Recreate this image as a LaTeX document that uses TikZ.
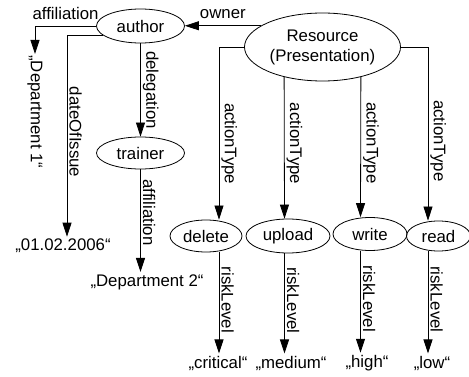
\documentclass[tikz,border=0pt]{standalone}
\usepackage{fontspec}
\setmainfont{Liberation Sans}
\usetikzlibrary{shapes.geometric, arrows.meta, positioning, calc}

\begin{document}
\begin{tikzpicture}[x=1pt, y=-1pt, >={Triangle[length=14pt,width=9pt]}, line width=0.8pt,
        font=\fontsize{16.8pt}{20pt}\selectfont]
        \tikzstyle{ent}=[ellipse, draw, inner sep=0pt]
        \tikzstyle{val}=[inner sep=2pt]
        \tikzstyle{lbl}=[rotate=-90, anchor=south, inner sep=2pt]
        \useasboundingbox (0,0) rectangle (469,377);

        % Entities
        \node[ent, minimum width=88pt, minimum height=34pt] (author) at (140.5,26) {author};
        \node[ent, minimum width=88pt, minimum height=32pt] (trainer) at (140.5,153) {trainer};
        \node[ent, minimum width=156pt, minimum height=68pt, align=center] (res) at (322.5,47) {Resource\\(Presentation)};

        % Actions
        \node[ent, minimum width=72pt, minimum height=32pt] (delete) at (206,236) {delete};
        \node[ent, minimum width=84pt, minimum height=34pt] (upload) at (288,236) {upload};
        \node[ent, minimum width=74pt, minimum height=33pt] (write) at (370,234) {write};
        \node[ent, minimum width=64pt, minimum height=30pt] (read) at (438.5,236) {read};

        % Values
        \node[val, rotate=-90, anchor=west, inner sep=1pt] (dep1) at (35,54) {„Department 1“};
        \node[val] (date) at (63,246) {„01.02.2006“};
        \node[val] (dep2) at (147,282) {„Department 2“};
        \node[val] (crit) at (218,363) {„critical“};
        \node[val] (med) at (291,363) {„medium“};
        \node[val] (high) at (367,363) {„high“};
        \node[val] (low) at (432,363) {„low“};

        % Author and trainer
        \draw[->] (author.west) -| (dep1.west) node[pos=0.25, above=3pt] {affiliation};
        \draw[->] (author.194) -| ([xshift=4pt]date.north) node[pos=0.74, lbl] {dateOfIssue};
        \draw[->] (author) -- (trainer) node[midway, lbl] {delegation};
        \draw[->] (trainer) -- (trainer |- dep2.north) node[pos=0.42, lbl] {affiliation};

        % Resource
        \draw[->] (res.161) -- (res.161 -| author.east) node[midway, above=3pt] {owner};
        \draw[->] (res.west) -| ([xshift=13pt]delete.north) node[pos=0.78, lbl] {actionType};
        \draw[->] (res.218) -- ([xshift=-3.5pt]upload.north) node[pos=0.47, lbl] {actionType};
        \draw[->] (res.322) -- ([xshift=-9.5pt]write.north) node[pos=0.47, lbl] {actionType};
        \draw[->] (res.east) -| ([xshift=-10.5pt]read.north) node[pos=0.77, lbl] {actionType};

        % Risk levels
        \draw[->] ([xshift=13pt]delete.south) -- ([xshift=13pt]delete.south |- crit.north) node[pos=0.47, lbl] {riskLevel};
        \draw[->] ([xshift=-3.5pt]upload.south) -- ([xshift=-3.5pt]upload.south |- med.north) node[pos=0.47, lbl] {riskLevel};
        \draw[->] ([xshift=-9.5pt]write.south) -- ([xshift=-9.5pt]write.south |- high.north) node[pos=0.47, lbl] {riskLevel};
        \draw[->] ([xshift=-10.5pt]read.south) -- ([xshift=-10.5pt]read.south |- low.north) node[pos=0.47, lbl] {riskLevel};
\end{tikzpicture}
\end{document}
